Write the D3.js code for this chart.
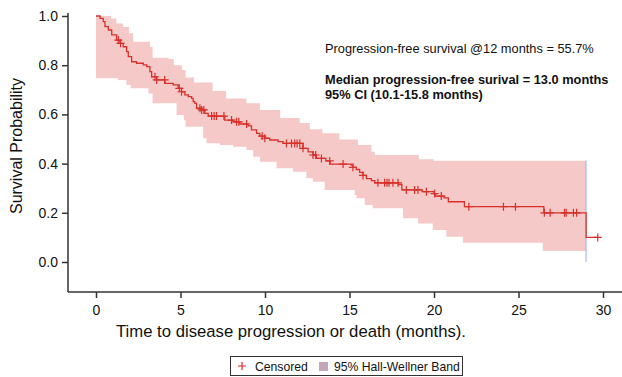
<!DOCTYPE html>
<html>
<head>
<meta charset="utf-8">
<title>Progression-free survival</title>
<style>
body { margin: 0; background: #fff; }
svg text { font-family: "Liberation Sans", Arial, sans-serif; fill: #111; }
.axis path, .axis line { stroke: #333; stroke-width: 1.5; }
.axis text { font-size: 14px; }
</style>
</head>
<body>
<script src="https://cdn.jsdelivr.net/npm/d3@7"></script>
<script>
// Kaplan-Meier steps: survival drops to stepSurv[i] at stepTime[i]
var stepTime = [0, 0.24, 0.43, 0.53, 0.73, 0.93, 1.22, 1.42, 1.61, 1.81, 1.91, 2.11, 2.4, 2.8, 3.0, 3.19, 3.29, 3.59, 4.08, 4.57, 4.86, 5.06, 5.26, 5.46, 5.66, 5.75, 5.85, 5.95, 6.25, 6.44, 6.64, 7.62, 8.11, 8.51, 9.0, 9.2, 9.5, 9.69, 9.99, 10.28, 10.77, 11.07, 12.25, 12.55, 12.84, 13.04, 13.6, 13.85, 15.1, 15.2, 15.4, 15.6, 15.8, 16.0, 16.3, 16.5, 17.9, 18.1, 19.3, 20.0, 20.1, 20.6, 20.85, 21.8, 26.5, 29.0];
var stepSurv = [1.0, 0.99, 0.977, 0.957, 0.943, 0.923, 0.902, 0.889, 0.875, 0.855, 0.835, 0.814, 0.808, 0.801, 0.794, 0.774, 0.753, 0.740, 0.726, 0.720, 0.706, 0.692, 0.679, 0.672, 0.665, 0.652, 0.645, 0.625, 0.618, 0.604, 0.593, 0.577, 0.570, 0.561, 0.553, 0.537, 0.523, 0.512, 0.503, 0.496, 0.489, 0.482, 0.462, 0.448, 0.435, 0.421, 0.411, 0.398, 0.394, 0.385, 0.376, 0.364, 0.352, 0.339, 0.331, 0.322, 0.315, 0.293, 0.286, 0.278, 0.268, 0.261, 0.245, 0.225, 0.200, 0.100];

// censored observations (months)
var censorTime = [1.32, 1.45, 3.49, 3.59, 4.06, 4.93, 5.06, 6.15, 6.25, 6.38, 6.84, 6.99, 7.13, 7.57, 8.02, 8.32, 8.45, 8.91, 9.83, 9.99, 11.27, 11.57, 11.76, 11.9, 12.06, 12.25, 12.84, 13.0, 13.34, 13.83, 14.62, 15.2, 15.8, 16.68, 17.08, 17.22, 17.34, 17.57, 17.87, 18.36, 18.85, 19.05, 19.55, 20.04, 20.43, 22.06, 24.11, 24.82, 26.53, 26.87, 27.72, 27.82, 28.25, 28.44, 29.69];

// 95% Hall-Wellner band
var bandTime  = [0, 0.9, 1.2, 1.3, 1.6, 1.8, 1.95, 2.05, 2.2, 3.1, 3.2, 3.35, 4.3, 4.6, 4.77, 5.1, 5.2, 5.3, 5.8, 6.34, 6.54, 6.9, 7.33, 7.7, 8.11, 8.9, 9.3, 9.7, 10.68, 10.9, 11.66, 12.05, 12.45, 12.65, 12.83, 13.4, 13.53, 14.4, 15.31, 15.41, 15.5, 15.9, 16.3, 16.37, 16.5, 18.16, 19.05, 19.1, 19.93, 20.0, 20.73, 21.71, 26.44, 29.0];
var bandUpper = [1.0, 0.99, 0.97, 0.97, 0.955, 0.955, 0.93, 0.93, 0.895, 0.895, 0.875, 0.83, 0.825, 0.80, 0.80, 0.78, 0.78, 0.75, 0.73, 0.73, 0.73, 0.695, 0.695, 0.665, 0.665, 0.645, 0.645, 0.618, 0.618, 0.585, 0.585, 0.565, 0.565, 0.54, 0.54, 0.523, 0.523, 0.498, 0.498, 0.498, 0.476, 0.476, 0.448, 0.448, 0.435, 0.435, 0.435, 0.418, 0.418, 0.412, 0.412, 0.412, 0.412, 0.412];
var bandLower = [0.747, 0.747, 0.747, 0.74, 0.74, 0.72, 0.72, 0.706, 0.706, 0.685, 0.685, 0.645, 0.645, 0.645, 0.598, 0.598, 0.577, 0.55, 0.55, 0.503, 0.483, 0.483, 0.476, 0.476, 0.469, 0.455, 0.428, 0.408, 0.381, 0.381, 0.367, 0.367, 0.34, 0.34, 0.326, 0.326, 0.293, 0.293, 0.272, 0.259, 0.259, 0.232, 0.232, 0.218, 0.218, 0.178, 0.157, 0.157, 0.13, 0.13, 0.103, 0.078, 0.045, 0.045];

var xTicks = [0, 5, 10, 15, 20, 25, 30];
var yTicks = [0, 0.2, 0.4, 0.6, 0.8, 1.0];

var width = 622, height = 377;
var svg = d3.select("body").append("svg")
	.attr("width", width)
	.attr("height", height);

var x = d3.scaleLinear().domain([0, 30]).range([96, 603]);
var y = d3.scaleLinear().domain([0, 1]).range([262, 16]);

function survAt(t) {
	var s = 1;
	for (let i = 0; i < stepTime.length; i++) {
		if (stepTime[i] <= t) s = stepSurv[i];
	}
	return s;
}

// band
var band = bandTime.map(function(t, i){ return [t, bandLower[i], bandUpper[i]]; });
svg.append("path")
	.datum(band)
	.attr("fill", "#f5c9c7")
	.attr("d", d3.area()
		.curve(d3.curveStepAfter)
		.x(function(d){ return x(d[0]); })
		.y0(function(d){ return y(d[1]); })
		.y1(function(d){ return y(d[2]); }));

// band end edge
var tEnd = bandTime[bandTime.length - 1];
svg.append("line")
	.attr("x1", x(tEnd)).attr("x2", x(tEnd))
	.attr("y1", y(bandUpper[bandUpper.length - 1]))
	.attr("y2", y(0))
	.attr("stroke", "#9fbbe0")
	.attr("stroke-opacity", 0.6)
	.attr("stroke-width", 2);

// KM curve
var km = stepTime.map(function(t, i){ return [t, stepSurv[i]]; });
km.push([censorTime[censorTime.length - 1], stepSurv[stepSurv.length - 1]]);
svg.append("path")
	.datum(km)
	.attr("fill", "none")
	.attr("stroke", "#d8302b")
	.attr("stroke-width", 1.3)
	.attr("d", d3.line()
		.curve(d3.curveStepAfter)
		.x(function(d){ return x(d[0]); })
		.y(function(d){ return y(d[1]); }));

// censor marks
svg.selectAll(".cens")
	.data(censorTime)
	.enter()
	.append("path")
	.attr("class", "cens")
	.attr("transform", function(d){ return "translate(" + x(d) + "," + y(survAt(d)) + ")"; })
	.attr("d", "M-4,0H4M0,-4V4")
	.attr("stroke", "#d8302b")
	.attr("stroke-width", 1.2)
	.attr("fill", "none");

// axes
var axX = svg.append("g")
	.attr("class", "axis")
	.attr("transform", "translate(0,292)")
	.call(d3.axisBottom(x).tickValues(xTicks).tickSize(6).tickPadding(7).tickFormat(d3.format("d")));
axX.select(".domain").attr("d", "M68,0H622");

var axY = svg.append("g")
	.attr("class", "axis")
	.attr("transform", "translate(68,0)")
	.call(d3.axisLeft(y).tickValues(yTicks).tickSize(6).tickPadding(4).tickFormat(d3.format(".1f")));
axY.select(".domain").attr("d", "M0,13V292");

svg.append("text")
	.attr("x", 291)
	.attr("y", 337)
	.attr("text-anchor", "middle")
	.style("font-size", "16.7px")
	.text("Time to disease progression or death (months).");

svg.append("text")
	.attr("transform", "translate(22,146) rotate(-90)")
	.attr("text-anchor", "middle")
	.style("font-size", "16px")
	.text("Survival Probability");

// annotations
svg.append("text").attr("x", 325).attr("y", 53).style("font-size", "12.8px")
	.text("Progression-free survival @12 months = 55.7%");
svg.append("text").attr("x", 325).attr("y", 84).style("font-size", "12.8px").style("font-weight", "bold")
	.text("Median progression-free surival = 13.0 months");
svg.append("text").attr("x", 325).attr("y", 99).style("font-size", "12.8px").style("font-weight", "bold")
	.text("95% CI (10.1-15.8 months)");

// legend
var lg = svg.append("g");
lg.append("rect")
	.attr("x", 230.5).attr("y", 356.5).attr("width", 232).attr("height", 19)
	.attr("fill", "#fff").attr("stroke", "#333").attr("stroke-width", 1);
lg.append("path")
	.attr("d", "M238,366H246M242,362V370")
	.attr("stroke", "#e8231f").attr("stroke-width", 1.2);
lg.append("text").attr("x", 255).attr("y", 370.5).style("font-size", "12.2px").text("Censored");
lg.append("rect")
	.attr("x", 319).attr("y", 362).attr("width", 9).attr("height", 9)
	.attr("fill", "#c4a6b8");
lg.append("text").attr("x", 334).attr("y", 370.5).style("font-size", "12.2px").text("95% Hall-Wellner Band");
</script>
</body>
</html>
